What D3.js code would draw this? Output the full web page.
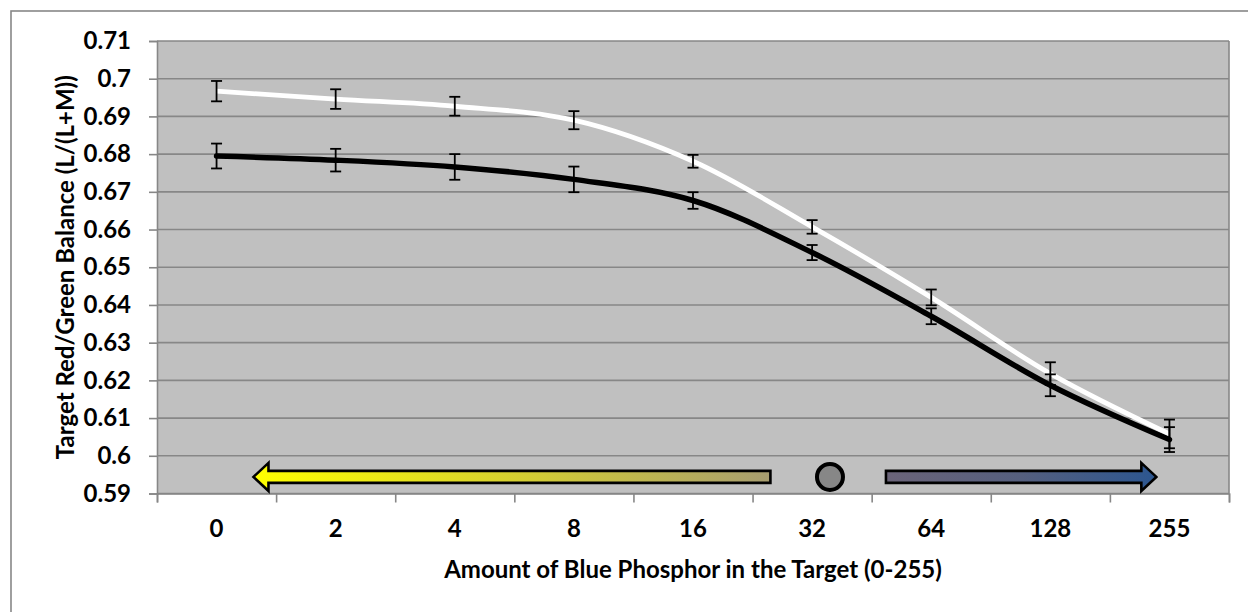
<!DOCTYPE html>
<html>
<head>
<meta charset="utf-8">
<script src="https://cdn.jsdelivr.net/npm/d3@7"></script>
<style>
  html, body { margin: 0; padding: 0; background: #fff; }
  svg { display: block; }
  text { font-family: Lato, "Open Sans", sans-serif; font-weight: bold; fill: #000; }
</style>
</head>
<body>
<svg id="chart" width="1248" height="612"></svg>
<script>
// Blue phosphor level in the target (x categories)
const categories = ["0", "2", "4", "8", "16", "32", "64", "128", "255"];

// Upper (white) series: mean balance and error half-width
const upperSeries = [0.6967, 0.6946, 0.6927, 0.6890, 0.6781, 0.6607, 0.6420, 0.6218, 0.6058];
const upperError  = [0.0027, 0.0026, 0.0025, 0.0024, 0.0017, 0.0018, 0.0021, 0.0030, 0.0038];

// Lower (black) series: mean balance and error half-width
const lowerSeries = [0.6795, 0.6784, 0.6766, 0.6733, 0.6677, 0.6539, 0.6370, 0.6187, 0.6043];
const lowerError  = [0.0033, 0.0030, 0.0034, 0.0034, 0.0022, 0.0020, 0.0021, 0.0029, 0.0033];

// Y axis tick values
const yTicks = [0.59, 0.60, 0.61, 0.62, 0.63, 0.64, 0.65, 0.66, 0.67, 0.68, 0.69, 0.70, 0.71];

const xTitle = "Amount of Blue Phosphor in the Target (0-255)";
const yTitle = "Target Red/Green Balance (L/(L+M))";

const svg = d3.select("#chart");
const plot = { left: 157, right: 1229, top: 41, bottom: 493.5 };
const fontSize = "24px";

const x = d3.scaleBand().domain(categories).range([plot.left, plot.right]).padding(0);
const xIndex = d3.scaleLinear().domain([0, categories.length]).range([plot.left, plot.right]);
const y = d3.scaleLinear().domain([0.59, 0.71]).range([plot.bottom, plot.top]);
const cx = c => x(c) + x.bandwidth() / 2;
const gridColor = "#878787";

// Outer chart frame
svg.append("rect")
  .attr("x", 11).attr("y", 11).attr("width", 1260).attr("height", 700)
  .attr("fill", "#fff").attr("stroke", gridColor).attr("stroke-width", 1.6);

// Plot background
svg.append("rect")
  .attr("x", plot.left).attr("y", plot.top)
  .attr("width", plot.right - plot.left).attr("height", plot.bottom - plot.top)
  .attr("fill", "#c0c0c0");

// Horizontal gridlines
svg.append("g").selectAll("line").data(yTicks).join("line")
  .attr("x1", plot.left).attr("x2", plot.right)
  .attr("y1", d => y(d)).attr("y2", d => y(d))
  .attr("stroke", gridColor).attr("stroke-width", 1.6);

// Right edge of plot area
svg.append("line")
  .attr("x1", plot.right).attr("x2", plot.right)
  .attr("y1", plot.top).attr("y2", plot.bottom)
  .attr("stroke", gridColor).attr("stroke-width", 1.6);

// Y axis
const yAxis = svg.append("g")
  .attr("transform", `translate(${plot.left},0)`)
  .call(d3.axisLeft(y).tickValues(yTicks).tickSize(8).tickPadding(18).tickFormat(d3.format(".2~f")));
yAxis.select(".domain").attr("stroke", gridColor).attr("stroke-width", 1.6);
yAxis.selectAll(".tick line").attr("stroke", gridColor).attr("stroke-width", 1.6);
yAxis.selectAll("text").style("font-size", fontSize).style("font-family", "Lato, sans-serif").style("font-weight", "bold").attr("fill", "#000");

// X axis tick marks at category boundaries
const xTickAxis = svg.append("g")
  .attr("transform", `translate(0,${plot.bottom})`)
  .call(d3.axisBottom(xIndex).tickValues(d3.range(categories.length + 1)).tickSize(9).tickFormat(""));
xTickAxis.select(".domain").attr("stroke", gridColor).attr("stroke-width", 1.6);
xTickAxis.selectAll(".tick line").attr("stroke", gridColor).attr("stroke-width", 1.6);

// X axis category labels
const xAxis = svg.append("g")
  .attr("transform", `translate(0,${plot.bottom})`)
  .call(d3.axisBottom(x).tickSize(0).tickPadding(26));
xAxis.select(".domain").remove();
xAxis.selectAll("text").style("font-size", fontSize).style("font-family", "Lato, sans-serif").style("font-weight", "bold").attr("fill", "#000");

// Axis titles
svg.append("text")
  .attr("x", (plot.left + plot.right) / 2).attr("y", 578)
  .attr("text-anchor", "middle").style("font-size", fontSize)
  .text(xTitle);
svg.append("text")
  .attr("transform", `translate(74,${(plot.top + plot.bottom) / 2}) rotate(-90)`)
  .attr("text-anchor", "middle").style("font-size", fontSize)
  .text(yTitle);

// Annotation: arrows and neutral marker along the bottom of the plot
const defs = svg.append("defs");
const yellowGrad = defs.append("linearGradient").attr("id", "gradYellow")
  .attr("x1", "0%").attr("x2", "100%").attr("y1", "0%").attr("y2", "0%");
yellowGrad.append("stop").attr("offset", "0%").attr("stop-color", "#ffff00");
yellowGrad.append("stop").attr("offset", "50%").attr("stop-color", "#d6d030");
yellowGrad.append("stop").attr("offset", "100%").attr("stop-color", "#a79d70");
const blueGrad = defs.append("linearGradient").attr("id", "gradBlue")
  .attr("x1", "0%").attr("x2", "100%").attr("y1", "0%").attr("y2", "0%");
blueGrad.append("stop").attr("offset", "0%").attr("stop-color", "#6b6479");
blueGrad.append("stop").attr("offset", "50%").attr("stop-color", "#555f7e");
blueGrad.append("stop").attr("offset", "100%").attr("stop-color", "#2c5690");

const arrowY = y(0.5944);
const catPos = i => xIndex(i + 0.5);
function arrowPath(tailX, tipX) {
  const dir = Math.sign(tipX - tailX);
  const headLen = 15, shaftH = 6, headH = 14;
  const hx = tipX - dir * headLen;
  return d3.line()([
    [tailX, arrowY - shaftH], [hx, arrowY - shaftH], [hx, arrowY - headH],
    [tipX, arrowY], [hx, arrowY + headH], [hx, arrowY + shaftH],
    [tailX, arrowY + shaftH]
  ]) + "Z";
}
svg.append("path")
  .attr("d", arrowPath(catPos(4.65), catPos(0.31)))
  .attr("fill", "url(#gradYellow)").attr("stroke", "#000").attr("stroke-width", 2.6)
  .attr("stroke-linejoin", "miter");
svg.append("path")
  .attr("d", arrowPath(catPos(5.62), catPos(7.89)))
  .attr("fill", "url(#gradBlue)").attr("stroke", "#000").attr("stroke-width", 2.6)
  .attr("stroke-linejoin", "miter");
svg.append("circle")
  .attr("cx", catPos(5.15)).attr("cy", arrowY).attr("r", 13)
  .attr("fill", "#878787").attr("stroke", "#000").attr("stroke-width", 4);

// Series lines
const line = d3.line().x((d, i) => cx(categories[i])).y(d => y(d)).curve(d3.curveCatmullRom.alpha(0.5));
svg.append("path").datum(lowerSeries)
  .attr("d", line).attr("fill", "none").attr("stroke", "#000").attr("stroke-width", 5.5)
  .attr("stroke-linejoin", "round").attr("stroke-linecap", "round");
svg.append("path").datum(upperSeries)
  .attr("d", line).attr("fill", "none").attr("stroke", "#fff").attr("stroke-width", 4.8)
  .attr("stroke-linejoin", "round");

// Error bars
function errorBars(values, errors) {
  const g = svg.append("g").attr("stroke", "#000").attr("stroke-width", 1.8);
  values.forEach((v, i) => {
    const px = cx(categories[i]);
    const hi = y(v + errors[i]), lo = y(v - errors[i]);
    g.append("line").attr("x1", px).attr("x2", px).attr("y1", hi).attr("y2", lo);
    g.append("line").attr("x1", px - 5.5).attr("x2", px + 5.5).attr("y1", hi).attr("y2", hi);
    g.append("line").attr("x1", px - 5.5).attr("x2", px + 5.5).attr("y1", lo).attr("y2", lo);
  });
}
errorBars(lowerSeries, lowerError);
errorBars(upperSeries, upperError);
</script>
</body>
</html>
